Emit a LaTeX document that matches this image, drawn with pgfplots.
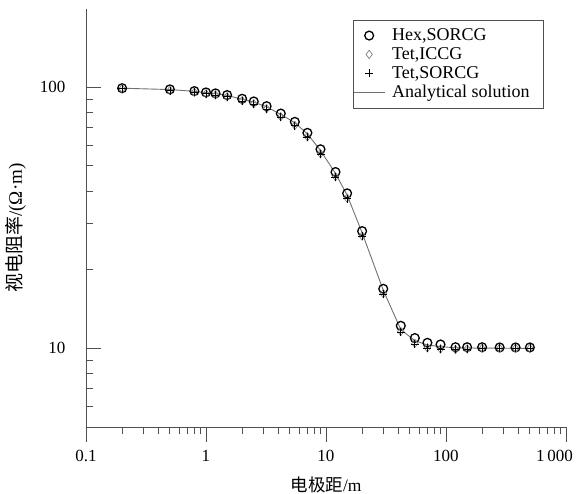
\documentclass[border=0pt]{standalone}
\usepackage{fontspec}
\setmainfont{Liberation Serif}
\newfontfamily\cjk{Noto Sans CJK SC}
\usepackage{pgfplots}
\pgfplotsset{compat=1.18}
\usepackage{pgfplotstable}
\definecolor{axgray}{HTML}{505050}
\definecolor{lngray}{HTML}{707070}

\pgfplotstableread{
x     hex    tetI   tetS   ana
0.2   99     98.5   98.5   99
0.5   98     97     97     97.8
0.8   96.5   95.5   95.5   96.3
1     95.4   94.2   94.2   95.2
1.2   94.6   93.3   93.3   94.3
1.5   93.2   91.8   91.8   92.9
2     90.2   88.7   88.5   89.8
2.5   88.1   86.3   86.2   87.6
3.2   84.5   82.6   82.4   84
4.2   79.2   77.0   76.8   78.6
5.5   73.6   71.3   71.2   73
7     66.8   64.5   64.3   66.2
9     57.8   55.6   55.4   57.2
12    47.3   45.4   45.2   46.7
15    39.2   37.6   37.4   38.6
20    28.1   26.9   26.8   27.7
30    16.9   16.2   16.1   16.7
42    12.2   11.6   11.5   11.8
55    10.95  10.45  10.4   10.7
70    10.5   10.05  10.0   10.3
90    10.35  9.95   9.9    10.15
120   10.1   9.9    9.9    10.05
150   10.1   9.95   9.95   10.03
200   10.1   10.0   10.0   10.02
280   10.08  10.0   10.0   10.01
380   10.08  10.0   10.0   10.0
500   10.08  10.0   10.0   10.0
}\datatable

\begin{document}
\begin{tikzpicture}
\useasboundingbox (-86bp,-67bp) rectangle (495bp,427bp);
\begin{axis}[
  scale only axis,
  width=480bp, height=418bp,
  xmode=log, ymode=log,
  xmin=0.1, xmax=1000, ymin=5, ymax=199,
  axis x line=bottom, axis y line=left,
  axis line style={-, axgray, line width=0.9bp},
  xtick align=outside, ytick align=inside,
  xtick pos=bottom, ytick pos=left,
  major tick length=15bp, minor tick length=7.5bp,
  tick style={axgray, line width=0.9bp},
  xtick={0.1,1,10,100,1000},
  xticklabels={0.1,1,10,100,\makebox[0pt][r]{1\,000\hspace{-7bp}}},
  ytick={10,100},
  yticklabels={10,100},
  minor ytick={5,6,7,8,9,20,30,40,50,60,70,80,90},
  /pgf/number format/assume math mode=true,
  tick label style={font=\fontsize{17bp}{20bp}\selectfont},
  xticklabel style={yshift=-5bp},
  yticklabel style={xshift=-17bp},
  xlabel={{\cjk 电极距}/m},
  ylabel={{\cjk 视电阻率}/(Ω·m)},
  x label style={at={(axis description cs:0.5,-0.139)}, anchor=center, font=\fontsize{17.5bp}{20bp}\selectfont},
  y label style={at={(axis description cs:-0.146,0.476)}, anchor=center, font=\fontsize{19bp}{20bp}\selectfont},
  legend style={at={(rel axis cs:0.954,0.974)}, anchor=north east,
    draw=axgray, line width=0.6bp, font=\fontsize{18bp}{19bp}\selectfont,
    inner xsep=0bp, inner ysep=7.5bp, row sep=3bp,
    nodes={inner ysep=1.2bp, inner xsep=7bp}},
  legend cell align=left,
  legend image code/.code={\draw[mark repeat=2,mark phase=2] plot coordinates {(0bp,0bp) (15.5bp,0bp) (31bp,0bp)};},
]
\addplot[only marks, mark=o, mark size=4.4bp, black, line width=1.3bp] table[x=x,y=hex] {\datatable};
\addlegendentry{Hex,SORCG}
\addplot[only marks, mark=diamond, mark size=4.2bp, gray, line width=0.7bp] table[x=x,y=tetI] {\datatable};
\addlegendentry{Tet,ICCG}
\addplot[only marks, mark=+, mark size=4bp, black, line width=0.7bp] table[x=x,y=tetS] {\datatable};
\addlegendentry{Tet,SORCG}
\addplot[lngray, line width=0.9bp, mark=none] table[x=x,y=ana] {\datatable};
\addlegendentry{Analytical solution\kern7bp}
\end{axis}
\end{tikzpicture}
\end{document}
